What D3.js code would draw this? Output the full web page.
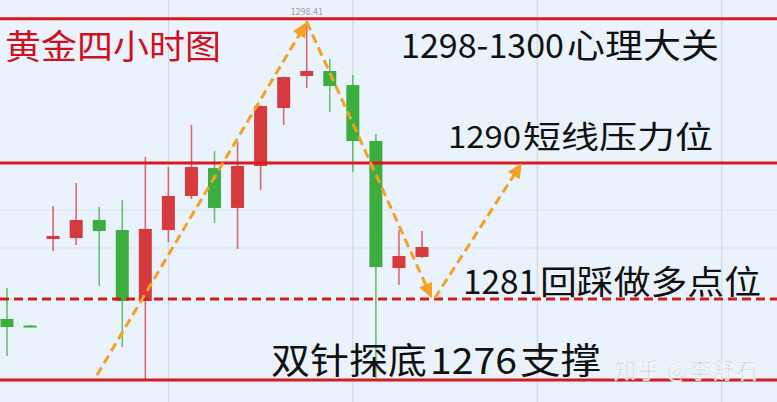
<!DOCTYPE html>
<html><head><meta charset="utf-8">
<script src="https://cdn.jsdelivr.net/npm/d3@7/dist/d3.min.js"></script>
<style>html,body{margin:0;padding:0;background:#eaf3fb;}svg{display:block;}</style>
</head><body><div id="chart"></div>
<script>
// ---- data ----
const candleIdx = d3.range(19);
const opens  = [1279.81,1279.40,1284.80,1284.86,1285.99,1285.36,1280.93,1285.36,1287.49,1289.23,1286.74,1289.36,1292.98,1294.98,1295.29,1294.41,1290.92,1282.99,1283.68];
const highs  = [1281.74,1279.43,1286.86,1288.30,1286.80,1287.24,1289.92,1289.30,1291.92,1290.29,1290.86,1293.15,1294.95,1298.41,1296.04,1295.04,1291.36,1285.36,1285.30];
const lows   = [1277.50,1279.32,1284.05,1284.43,1281.87,1278.06,1276.00,1284.61,1287.30,1285.80,1284.18,1287.86,1291.92,1294.23,1292.73,1288.98,1276.12,1281.93,1283.62];
const closes = [1279.31,1279.35,1284.99,1285.99,1285.30,1280.93,1285.43,1287.49,1289.30,1286.74,1289.36,1293.10,1294.91,1295.29,1294.35,1290.92,1283.05,1283.74,1284.30];
const solidLevels = [1298.55, 1289.55, 1276.0];
const dashedLevels = [1281.05];
const gridX = [7, 15, 23, 31];
const gridY = [1286.61, 1284.24];
const arrowStarts = [[3.9,1276.3],[13.0,1298.35],[18.55,1281.1]];
const arrowEnds   = [[13.0,1298.35],[18.43,1281.1],[22.33,1289.55]];
const labels = ["黄金四小时图","1298-1300心理大关","1290短线压力位","1281回踩做多点位","双针探底1276支撑","知乎 @李舒石","1298.41"];

// ---- drawing ----
const W = 777, H = 402;
const svg = d3.select("#chart").append("svg").attr("width", W).attr("height", H);
svg.append("rect").attr("width", W).attr("height", H).attr("fill", "#eaf3fb");

const x = d3.scaleLinear().domain([0, 18]).range([7, 422]);
const y = d3.scaleLinear().domain([1276, 1298.41]).range([380, 21]);

// grid
svg.append("g").selectAll("line").data(gridX).join("line")
  .attr("x1", d => x(d)).attr("x2", d => x(d)).attr("y1", 0).attr("y2", H)
  .attr("stroke", "#cdd6e0").attr("stroke-width", 1);
svg.append("g").selectAll("line").data(gridY).join("line")
  .attr("x1", 0).attr("x2", W).attr("y1", d => y(d)).attr("y2", d => y(d))
  .attr("stroke", "#d8e1ea").attr("stroke-width", 1);

const RED = "#d63a3e", GREEN = "#3cae40";
const col = i => closes[i] >= opens[i] ? RED : GREEN;

const cg = svg.append("g");
cg.selectAll("line.wick").data(candleIdx).join("line").attr("class","wick")
  .attr("x1", i => x(i)).attr("x2", i => x(i))
  .attr("y1", i => y(highs[i])).attr("y2", i => y(lows[i]))
  .attr("stroke", col).attr("stroke-opacity", 0.75).attr("stroke-width", 1.6);
cg.selectAll("rect.body").data(candleIdx).join("rect").attr("class","body")
  .attr("x", i => x(i) - 6.5).attr("width", 13)
  .attr("y", i => y(Math.max(opens[i], closes[i])))
  .attr("height", i => Math.max(2, Math.abs(y(opens[i]) - y(closes[i]))))
  .attr("fill", col);

// levels
svg.append("g").selectAll("line").data(solidLevels).join("line")
  .attr("x1", 0).attr("x2", W).attr("y1", d => y(d)).attr("y2", d => y(d))
  .attr("stroke", "#d41c20").attr("stroke-width", 3);
svg.append("g").selectAll("line").data(dashedLevels).join("line")
  .attr("x1", 0).attr("x2", W).attr("y1", d => y(d)).attr("y2", d => y(d))
  .attr("stroke", "#d41c20").attr("stroke-width", 3).attr("stroke-dasharray", "9,5");

// arrows
const ORANGE = "#f4a024";
const ag = svg.append("g");
arrowStarts.forEach((s, k) => {
  const e = arrowEnds[k];
  const x0 = x(s[0]), y0 = y(s[1]), x1 = x(e[0]), y1 = y(e[1]);
  const dx = x1 - x0, dy = y1 - y0, L = Math.hypot(dx, dy);
  const ux = dx / L, uy = dy / L;
  const hl = 15, hw = 7;
  ag.append("line").attr("x1", x0).attr("y1", y0)
    .attr("x2", x1 - ux * (hl - 2)).attr("y2", y1 - uy * (hl - 2))
    .attr("stroke", ORANGE).attr("stroke-width", 3).attr("stroke-dasharray", "9,5");
  const bx = x1 - ux * hl, by = y1 - uy * hl;
  ag.append("polygon")
    .attr("points", [[x1, y1], [bx - uy * hw, by + ux * hw], [bx + uy * hw, by - ux * hw]].map(p => p.join(",")).join(" "))
    .attr("fill", ORANGE);
});

// texts: split each label into runs of Latin/digits and CJK, each fitted to its span
const FONT = "'Noto Sans CJK SC','Noto Sans',sans-serif";
function runs(t) { return t.match(/[0-9.\-]+|[^0-9.\-]+/g); }
function fitRuns(t, spans, base, size, fill, extra) {
  const parts = runs(t);
  parts.forEach((p, k) => {
    const [a, b] = spans[k];
    const el = svg.append("text").attr("x", a).attr("y", base)
      .attr("font-family", FONT).attr("font-size", size).attr("fill", fill).text(p)
      .attr("textLength", b - a).attr("lengthAdjust", "spacingAndGlyphs");
    if (extra) extra(el);
  });
}
fitRuns(labels[0], [[5, 221]], 59, 34, "#d0101c");
fitRuns(labels[1], [[401, 564], [567, 719]], 58, 34, "#111");
fitRuns(labels[2], [[448, 521], [523, 713]], 148, 31, "#111");
fitRuns(labels[3], [[463, 537], [540, 761]], 294, 33, "#111");
fitRuns(labels[4], [[271, 427], [430, 517], [520, 601]], 374, 36, "#111");
const wm = svg.append("text").attr("x", 614).attr("y", 378)
  .attr("font-family", FONT).attr("font-size", 22).attr("fill", "#c9ced4")
  .attr("stroke", "#ffffff").attr("stroke-width", 0.6)
  .attr("textLength", 144).attr("lengthAdjust", "spacing").text(labels[5]);
svg.append("text").attr("x", x(13)).attr("y", 15).attr("text-anchor", "middle")
  .attr("font-family", FONT).attr("font-size", 9).attr("fill", "#9aa0a8").text(labels[6]);
</script>
</body></html>
